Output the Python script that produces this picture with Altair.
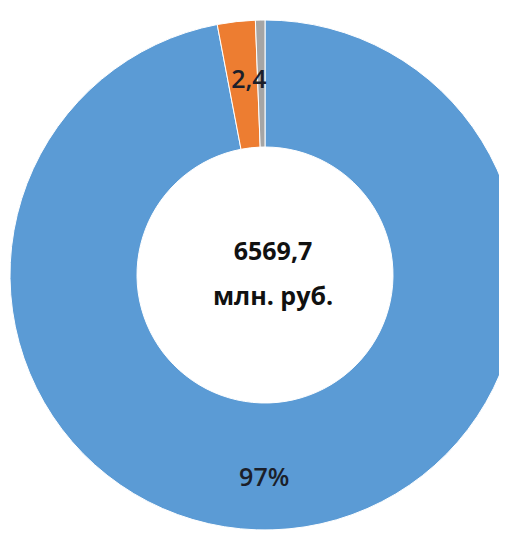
import altair as alt
import pandas as pd

categories = ["A", "B", "C"]
values = [97.0, 2.4, 0.6]
labels = ["97%", "2,4", ""]
colors = ["#5B9BD5", "#ED7D31", "#A5A5A5"]
center_lines = ["6569,7", "млн. руб."]

df = pd.DataFrame({"cat": categories, "val": values, "label": labels,
                   "ord": list(range(len(categories)))})

CX, CY = 257, 267
FONT = "Open Sans"

base = alt.Chart(df).encode(
    theta=alt.Theta("val:Q", stack=True),
    order=alt.Order("ord:Q"),
    x=alt.value(CX), y=alt.value(CY),
)

arcs = base.mark_arc(outerRadius=255, innerRadius=128, stroke="white", strokeWidth=1).encode(
    color=alt.Color("cat:N", scale=alt.Scale(domain=categories, range=colors), legend=None)
)

lbl_blue = base.mark_text(radius=204, font=FONT, fontSize=25, fontWeight=600,
                          color="#1b1f2a", dx=-20).encode(
    text=alt.condition(alt.datum.cat == "A", alt.Text("label:N"), alt.value(""))
)
lbl_orange = base.mark_text(radius=196, font=FONT, fontSize=25, fontWeight=600,
                            color="#1b1f2a", dx=6).encode(
    text=alt.condition(alt.datum.cat == "B", alt.Text("label:N"), alt.value(""))
)

cdf = pd.DataFrame({"t": ["\n".join(center_lines)]})
center = alt.Chart(cdf).mark_text(
    font=FONT, fontSize=25, fontWeight="bold", color="#111111",
    lineBreak="\n", lineHeight=45, baseline="middle"
).encode(text="t:N", x=alt.value(CX + 8), y=alt.value(CY - 23))

chart = alt.layer(arcs, lbl_blue, lbl_orange, center).properties(
    width=491, height=526,
    autosize=alt.AutoSizeParams(type="none"),
    padding=0,
).configure(background="white").configure_view(strokeWidth=0, stroke="transparent")

chart.save("out.html", embed_options={"renderer": "svg", "actions": False})
